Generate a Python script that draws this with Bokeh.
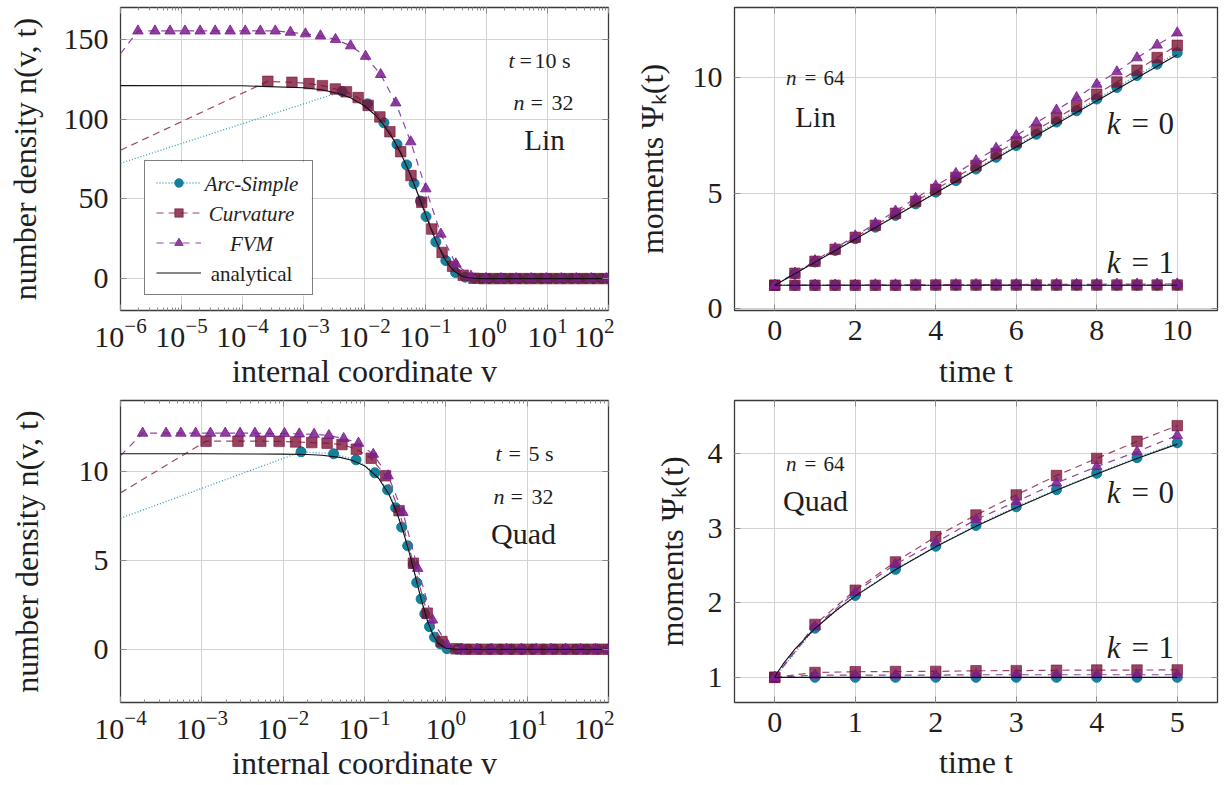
from bokeh.plotting import figure
from bokeh.models import (Range1d, FixedTicker, LinearAxis, Label, Legend, LegendItem, BoxAnnotation)
from bokeh.layouts import column, row
from bokeh.embed import file_html
from bokeh.resources import INLINE

FONT = "Liberation Serif"
TXT = "#1e1e1e"
C_ARC, C_ARC_L = "#0a7a98", "#3c9fbf"
C_CUR, C_CUR_L = "#7a0f33", "#a14566"
C_FVM, C_FVM_L = "#7b1f8e", "#8f45a3"
C_ANA = "#111111"

# ---------------- data: top-left (Lin, t = 10 s, n = 32) ----------------
TL_ANA_V = [1e-6, 1e-4, 1e-3, 2e-3, 4e-3, 6e-3, 0.01, 0.015, 0.02, 0.03, 0.04, 0.05, 0.06, 0.07,
            0.08, 0.1, 0.12, 0.15, 0.2, 0.25, 0.3, 0.4, 0.5, 0.7, 1.0, 100.0]
TL_ANA_N = [121.0, 120.9, 119.7, 118.4, 115.8, 113.3, 108.4, 102.6, 97.1, 87.0, 77.9, 69.8, 62.5, 56.0,
            50.2, 40.3, 32.3, 23.2, 13.4, 7.7, 4.5, 1.5, 0.49, 0.06, 0.0, 0.0]
TL_ARC_V = [1e-6, 4.30e-3, 0.01122, 0.02084, 0.03412, 0.04898, 0.06501, 0.0826, 0.1021, 0.1479, 0.2153,
            0.3112, 0.4467, 0.631, 0.8356, 1.107, 1.469, 1.945, 2.576, 3.412, 4.529, 5.998, 7.943, 10.52,
            13.93, 18.49, 24.49, 32.43, 42.95, 57.02, 75.51, 100.0]
TL_ARC_N = [72.3, 117.4, 109.6, 97.7, 84.2, 71.3, 59.6, 48.6, 38.9, 23.0, 11.3, 3.8, 0.9, 0.2, 0.05,
            0.0, 0.0, 0.0, 0.0, 0.0, 0.0, 0.0, 0.0, 0.0, 0.0, 0.0, 0.0, 0.0, 0.0, 0.0, 0.0, 0.0]
TL_CUR_V = [1e-6, 2.60e-4, 6.46e-4, 1.23e-3, 2.04e-3, 3.33e-3, 5.06e-3, 7.87e-3, 0.01148, 0.01786, 0.02606,
            0.03917, 0.05781, 0.0867, 0.1268, 0.1871, 0.278, 0.415, 0.6223, 0.9204, 1.349, 1.995, 2.951,
            4.365, 6.457, 9.55, 14.13, 20.89, 30.9, 45.7, 67.6, 100.0]
TL_CUR_N = [80.5, 123.7, 123.1, 122.3, 121.0, 118.9, 117.1, 113.5, 108.6, 101.4, 92.1, 79.6, 64.6, 47.9,
            31.1, 16.4, 7.7, 2.1, 0.2, 0.0, 0.0, 0.0, 0.0, 0.0, 0.0, 0.0, 0.0, 0.0, 0.0, 0.0, 0.0, 0.0]
TL_FVM_V = [1e-6, 1.93e-6, 3.67e-6, 6.49e-6, 1.143e-5, 2.018e-5, 3.565e-5, 6.28e-5, 1.109e-4, 1.959e-4,
            3.45e-4, 6.10e-4, 1.076e-3, 1.897e-3, 3.35e-3, 5.92e-3, 0.01042, 0.01841, 0.03251, 0.05728,
            0.1012, 0.1786, 0.3148, 0.5559, 0.9817, 1.730, 3.055, 5.395, 9.51, 16.79, 29.65, 52.24, 92.3]
TL_FVM_N = [141.0, 155.3, 155.3, 155.3, 155.3, 155.3, 155.3, 155.3, 155.3, 155.3, 155.3, 154.5, 153.5,
            152.2, 150.0, 146.0, 139.4, 128.0, 110.2, 85.8, 56.3, 27.9, 9.2, 1.5, 0.1, 0.0, 0.0, 0.0,
            0.0, 0.0, 0.0, 0.0, 0.0]

# ---------------- data: bottom-left (Quad, t = 5 s, n = 32) ----------------
BL_ANA_V = [1e-4, 1e-3, 0.005, 0.01, 0.02, 0.03, 0.05, 0.07, 0.1, 0.15, 0.2, 0.25, 0.3, 0.35, 0.4,
            0.45, 0.5, 0.6, 0.7, 0.8, 1.0, 1.3, 100.0]
BL_ANA_N = [11.0, 11.0, 10.99, 10.98, 10.96, 10.92, 10.8, 10.64, 10.33, 9.61, 8.71, 7.69, 6.61, 5.54,
            4.52, 3.59, 2.78, 1.54, 0.77, 0.35, 0.05, 0.0, 0.0]
BL_ARC_V = [1e-4, 0.0166, 0.04169, 0.0787, 0.134, 0.1923, 0.2415, 0.2864, 0.3396, 0.399, 0.4385, 0.4966,
            0.5508, 0.6295, 0.7261, 0.8551, 1.033, 1.380, 1.875, 2.547, 3.459, 4.688, 6.368, 8.650,
            11.75, 15.96, 21.68, 29.44, 39.90, 54.2, 73.6, 100.0]
BL_ARC_N = [7.37, 11.11, 11.0, 10.66, 9.93, 8.97, 7.96, 6.87, 5.82, 4.80, 3.75, 2.83, 1.99, 1.27, 0.68,
            0.30, 0.03, 0.0, 0.0, 0.0, 0.0, 0.0, 0.0, 0.0, 0.0, 0.0, 0.0, 0.0, 0.0, 0.0, 0.0, 0.0]
BL_CUR_V = [1e-4, 1.127e-3, 2.78e-3, 5.30e-3, 8.91e-3, 0.01422, 0.02249, 0.03467, 0.05284, 0.07943, 0.1208,
            0.1816, 0.2661, 0.399, 0.5902, 0.8954, 1.334, 1.738, 2.323, 3.097, 4.14, 5.534, 7.396, 9.863,
            13.18, 17.62, 23.5, 31.41, 41.98, 56.1, 74.82, 100.0]
BL_CUR_N = [8.8, 11.71, 11.71, 11.71, 11.70, 11.67, 11.63, 11.60, 11.52, 11.26, 10.75, 9.76, 7.80, 4.84,
            2.03, 0.43, 0.02, 0.0, 0.0, 0.0, 0.0, 0.0, 0.0, 0.0, 0.0, 0.0, 0.0, 0.0, 0.0, 0.0, 0.0, 0.0]
BL_FVM_V = [1e-4, 1.871e-4, 3.63e-4, 5.52e-4, 8.39e-4, 1.276e-3, 1.941e-3, 2.951e-3, 4.49e-3, 6.82e-3,
            0.01038, 0.01578, 0.02399, 0.03648, 0.05546, 0.08433, 0.1282, 0.195, 0.2965, 0.4508, 0.6855,
            1.042, 1.585, 2.41, 3.664, 5.572, 8.47, 12.88, 19.59, 29.79, 45.29, 68.87, 100.0]
BL_FVM_N = [10.9, 12.16, 12.16, 12.16, 12.16, 12.16, 12.16, 12.16, 12.16, 12.14, 12.14, 12.12, 12.10,
            12.03, 11.86, 11.60, 10.97, 9.76, 7.70, 4.55, 1.65, 0.25, 0.0, 0.0, 0.0, 0.0, 0.0, 0.0, 0.0,
            0.0, 0.0, 0.0, 0.0]

# ---------------- data: top-right (Lin moments, n = 64) ----------------
TR_T = [0, 0.5, 1, 1.5, 2, 2.5, 3, 3.5, 4, 4.5, 5, 5.5, 6, 6.5, 7, 7.5, 8, 8.5, 9, 9.5, 10]
TR_ANA_T = [0, 10]
TR_ANA0 = [1.0, 11.0]
TR_ANA1 = [1.0, 1.0]
TR_ARC0 = [1.0, 1.50, 2.01, 2.51, 3.02, 3.52, 4.03, 4.53, 5.04, 5.54, 6.04, 6.55, 7.06, 7.55, 8.08, 8.57,
           9.08, 9.58, 10.10, 10.59, 11.09]
TR_CUR0 = [1.0, 1.52, 2.04, 2.56, 3.08, 3.60, 4.12, 4.64, 5.16, 5.68, 6.20, 6.72, 7.22, 7.74, 8.25, 8.76,
           9.29, 9.82, 10.33, 10.88, 11.41]
TR_FVM0 = [1.0, 1.53, 2.07, 2.60, 3.14, 3.68, 4.22, 4.77, 5.31, 5.85, 6.40, 6.94, 7.49, 8.05, 8.60, 9.14,
           9.72, 10.26, 10.87, 11.42, 11.95]
TR_ARC1 = [1.0, 1.0, 1.0, 1.0, 1.0, 1.0, 1.0, 1.0, 1.0, 1.0, 1.0, 1.0, 1.0, 1.0, 1.0, 1.0, 1.0, 1.0, 1.0,
           1.0, 1.0]
TR_CUR1 = [1.0, 1.0, 1.0, 1.0, 1.0, 1.0, 1.0, 1.01, 1.01, 1.01, 1.01, 1.01, 1.01, 1.01, 1.01, 1.01, 1.01,
           1.01, 1.01, 1.01, 1.01]
TR_FVM1 = [1.0, 1.0, 1.01, 1.01, 1.01, 1.02, 1.02, 1.02, 1.02, 1.03, 1.03, 1.03, 1.03, 1.04, 1.04, 1.04,
           1.04, 1.05, 1.05, 1.05, 1.06]

# ---------------- data: bottom-right (Quad moments, n = 64) ----------------
BR_T = [0, 0.5, 1, 1.5, 2, 2.5, 3, 3.5, 4, 4.5, 5]
BR_ANA_T = [0, 0.005, 0.02, 0.05, 0.1, 0.25, 0.5, 0.75, 1, 1.5, 2, 2.5, 3, 3.5, 4, 4.5, 5]
BR_ANA0 = [1.0, 1.010, 1.038, 1.092, 1.173, 1.379, 1.656, 1.887, 2.091, 2.446, 2.753, 3.028, 3.279, 3.512,
           3.731, 3.938, 4.132]
BR_ANA1_T = [0, 5]
BR_ANA1 = [1.0, 1.0]
BR_ARC0 = [1.0, 1.66, 2.10, 2.45, 2.76, 3.04, 3.29, 3.52, 3.74, 3.95, 4.15]
BR_CUR0 = [1.0, 1.71, 2.17, 2.55, 2.89, 3.18, 3.45, 3.71, 3.94, 4.17, 4.38]
BR_FVM0 = [1.0, 1.68, 2.14, 2.52, 2.81, 3.12, 3.36, 3.61, 3.83, 4.03, 4.25]
BR_ARC1 = [1.0, 1.0, 1.0, 1.0, 1.0, 1.0, 1.0, 1.0, 1.0, 1.0, 1.0]
BR_CUR1 = [1.0, 1.065, 1.075, 1.078, 1.08, 1.088, 1.09, 1.095, 1.098, 1.098, 1.10]
BR_FVM1 = [1.0, 1.03, 1.03, 1.03, 1.03, 1.035, 1.035, 1.035, 1.035, 1.035, 1.035]

# ---------------- tick definitions ----------------
TL_XTICKS = [1e-6, 1e-5, 1e-4, 1e-3, 1e-2, 1e-1, 1e0, 1e1, 1e2]
BL_XTICKS = [1e-4, 1e-3, 1e-2, 1e-1, 1e0, 1e1, 1e2]
TL_YTICKS = [0, 50, 100, 150]
BL_YTICKS = [0, 5, 10]
TR_XTICKS = [0, 2, 4, 6, 8, 10]
TR_YTICKS = [0, 5, 10]
BR_XTICKS = [0, 1, 2, 3, 4, 5]
BR_YTICKS = [1, 2, 3, 4]

LEGEND_LABELS = ["Arc-Simple", "Curvature", "FVM", "analytical"]


def log_minor(decades):
    out = []
    for d in decades[:-1]:
        for m in range(2, 10):
            out.append(m * d)
    return out


def style_axis(ax, tick_size, label_size, tick_standoff, label_standoff):
    ax.axis_line_color = None
    ax.major_tick_in = 6
    ax.major_tick_out = 0
    ax.minor_tick_in = 3
    ax.minor_tick_out = 0
    ax.major_tick_line_color = "#8c8c8c"
    ax.minor_tick_line_color = "#8c8c8c"
    ax.major_label_text_font = FONT
    ax.major_label_text_font_size = f"{tick_size}px"
    ax.major_label_text_color = TXT
    ax.major_label_standoff = tick_standoff
    ax.axis_label_text_font = FONT
    ax.axis_label_text_font_size = f"{label_size}px"
    ax.axis_label_text_font_style = "normal"
    ax.axis_label_text_color = TXT
    ax.axis_label_standoff = label_standoff


def mirror(p, xticker, yticker, xlog):
    top = LinearAxis(ticker=xticker)
    rgt = LinearAxis(ticker=yticker)
    for ax in (top, rgt):
        ax.axis_line_color = None
        ax.major_tick_in = 6
        ax.major_tick_out = 0
        ax.minor_tick_in = 3
        ax.minor_tick_out = 0
        ax.major_tick_line_color = "#8c8c8c"
        ax.minor_tick_line_color = "#8c8c8c"
        ax.major_label_text_font_size = "1px"
        ax.major_label_text_alpha = 0.0
        ax.major_label_standoff = 0
    if not xlog:
        top.minor_tick_line_color = None
    rgt.minor_tick_line_color = None
    p.add_layout(top, "above")
    p.add_layout(rgt, "right")


def make_fig(w, h, xr, yr, xlog, mb, xticks, yticks, xlabel, ylabel, xts, xls, yls):
    p = figure(width=w, height=h, x_range=Range1d(*xr), y_range=Range1d(*yr),
               x_axis_type="log" if xlog else "linear", output_backend="svg",
               toolbar_location=None, min_border_left=mb[0], min_border_right=mb[1],
               min_border_top=mb[2], min_border_bottom=mb[3])
    p.background_fill_color = "white"
    p.border_fill_color = "white"
    p.outline_line_color = "#3a3a3a"
    p.outline_line_width = 1.3
    if xlog:
        xt = FixedTicker(ticks=xticks, minor_ticks=log_minor(xticks))
    else:
        xt = FixedTicker(ticks=xticks)
    yt = FixedTicker(ticks=yticks)
    p.xaxis.ticker = xt
    p.yaxis.ticker = yt
    p.xaxis.axis_label = xlabel
    p.yaxis.axis_label = ylabel
    for ax in p.xaxis:
        style_axis(ax, 30, 32, xts, xls)
        if not xlog:
            ax.minor_tick_line_color = None
    for ax in p.yaxis:
        style_axis(ax, 30, 32, 12, yls)
        ax.minor_tick_line_color = None
    p.xgrid.ticker = xt
    p.ygrid.ticker = yt
    p.grid.grid_line_color = "#d3d3d3"
    p.grid.grid_line_width = 1
    mirror(p, xt, yt, xlog)
    return p


def series(p, xs, ys, kind, skip_first):
    if kind == "arc":
        lr = p.line(xs, ys, line_color=C_ARC_L, line_dash="1 2", line_width=1.4)
        mx, my = (xs[1:], ys[1:]) if skip_first else (xs, ys)
        sr = p.scatter(mx, my, marker="circle", size=10, fill_color=C_ARC, line_color=C_ARC,
                       fill_alpha=0.95, line_alpha=0.95)
    elif kind == "cur":
        lr = p.line(xs, ys, line_color=C_CUR_L, line_dash="7 5", line_width=1.2)
        mx, my = (xs[1:], ys[1:]) if skip_first else (xs, ys)
        sr = p.scatter(mx, my, marker="square", size=10.5, fill_color=C_CUR, line_color=C_CUR,
                       fill_alpha=0.78, line_alpha=0.6)
    else:
        lr = p.line(xs, ys, line_color=C_FVM_L, line_dash="7 6", line_width=1.2)
        mx, my = (xs[1:], ys[1:]) if skip_first else (xs, ys)
        sr = p.scatter(mx, my, marker="triangle", size=10.5, fill_color=C_FVM, line_color=C_FVM,
                       fill_alpha=0.85, line_alpha=0.85)
    return lr, sr


def lbl(p, fh, fx, fy_top, text, size, style="normal", align="left"):
    p.add_layout(Label(x=fx, y=fh - fy_top, x_units="screen", y_units="screen", text=text,
                       text_font=FONT, text_font_size=f"{size}px", text_font_style=style,
                       text_align=align, text_baseline="middle", text_color=TXT, level="overlay"))


def eq(p, fh, x_var, x_eq, x_val, y, var, val, size):
    lbl(p, fh, x_var, y, var, size, "italic", "right")
    lbl(p, fh, x_eq, y, "=", size)
    lbl(p, fh, x_val, y, val, size)


# ---------------- layout constants ----------------
LW, RW = 614, 610
TH, BH = 392, 391
TFH, BFH = 303, 302

# ---------- top-left ----------
p1 = make_fig(LW, TH, (1e-6, 1e2), (-20, 170), True, (120, 6, 7, 82), TL_XTICKS, TL_YTICKS,
              "internal coordinate v", "number density n(v, t)", 8, 3, 18)
a1 = series(p1, TL_ARC_V, TL_ARC_N, "arc", True)
c1 = series(p1, TL_CUR_V, TL_CUR_N, "cur", True)
f1 = series(p1, TL_FVM_V, TL_FVM_N, "fvm", True)
n1 = p1.line(TL_ANA_V, TL_ANA_N, line_color=C_ANA, line_width=1.1)
p1.add_layout(BoxAnnotation(left=24, right=191, bottom=15, top=148, left_units="screen",
                            right_units="screen", bottom_units="screen", top_units="screen",
                            fill_color="white", fill_alpha=1.0, line_color=None, level="underlay"))
leg = Legend(items=[LegendItem(label=LEGEND_LABELS[0], renderers=list(a1)),
                    LegendItem(label=LEGEND_LABELS[1], renderers=list(c1)),
                    LegendItem(label=LEGEND_LABELS[2], renderers=list(f1)),
                    LegendItem(label=LEGEND_LABELS[3], renderers=[n1])],
             location=(24, 15), glyph_width=45, glyph_height=21, label_height=21, label_width=95,
             label_standoff=5, spacing=9, padding=11, margin=0, border_line_color="black",
             border_line_width=1.2, background_fill_alpha=0.0,
             label_text_font_size="10px", label_text_alpha=0.0, label_text_font=FONT)
p1.add_layout(leg)
for txt, yb, st in zip(LEGEND_LABELS, (126.5, 96.5, 66.5, 36.5), ("italic", "italic", "italic", "normal")):
    lbl(p1, 0, 131, -yb, txt, 21, st, "center")
eq(p1, TFH, 394, 399, 414, 53, "t", "10 s", 22)
eq(p1, TFH, 404, 410, 431, 95, "n", "32", 22)
lbl(p1, TFH, 424, 132, "Lin", 29, "normal", "center")

# ---------- top-right ----------
p2 = make_fig(RW, TH, (-1, 11), (-0.095, 13.05), False, (120, 7, 7, 82), TR_XTICKS, TR_YTICKS,
              "time t", "moments \u03a8\u2096(t)", 10, 10, 20)
for ys0, ys1, kind in ((TR_ARC0, TR_ARC1, "arc"), (TR_CUR0, TR_CUR1, "cur"), (TR_FVM0, TR_FVM1, "fvm")):
    series(p2, TR_T, ys0, kind, False)
    series(p2, TR_T, ys1, kind, False)
p2.line(TR_ANA_T, TR_ANA0, line_color=C_ANA, line_width=1.1)
p2.line(TR_ANA_T, TR_ANA1, line_color=C_ANA, line_width=1.1)
eq(p2, TFH, 62, 70, 89, 70, "n", "64", 21)
lbl(p2, TFH, 81, 109, "Lin", 29, "normal", "center")
eq(p2, TFH, 386, 397, 424, 116, "k", "0", 31)
eq(p2, TFH, 386, 397, 424, 255, "k", "1", 31)

# ---------- bottom-left ----------
p3 = make_fig(LW, BH, (1e-4, 1e2), (-3, 14), True, (120, 6, 8, 81), BL_XTICKS, BL_YTICKS,
              "internal coordinate v", "number density n(v, t)", 8, 3, 31)
series(p3, BL_ARC_V, BL_ARC_N, "arc", True)
series(p3, BL_CUR_V, BL_CUR_N, "cur", True)
series(p3, BL_FVM_V, BL_FVM_N, "fvm", True)
p3.line(BL_ANA_V, BL_ANA_N, line_color=C_ANA, line_width=1.1)
eq(p3, BFH, 381, 388, 408, 53, "t", "5 s", 22)
eq(p3, BFH, 384, 390, 411, 96, "n", "32", 22)
lbl(p3, BFH, 403, 133, "Quad", 30, "normal", "center")

# ---------- bottom-right ----------
p4 = make_fig(RW, BH, (-0.5, 5.5), (0.662, 4.718), False, (120, 7, 8, 81), BR_XTICKS, BR_YTICKS,
              "time t", "moments \u03a8\u2096(t)", 10, 9, 15)
for ys0, ys1, kind in ((BR_ARC0, BR_ARC1, "arc"), (BR_CUR0, BR_CUR1, "cur"), (BR_FVM0, BR_FVM1, "fvm")):
    series(p4, BR_T, ys0, kind, False)
    series(p4, BR_T, ys1, kind, False)
p4.line(BR_ANA_T, BR_ANA0, line_color=C_ANA, line_width=1.1)
p4.line(BR_ANA1_T, BR_ANA1, line_color=C_ANA, line_width=1.1)
eq(p4, BFH, 62, 70, 89, 63, "n", "64", 21)
lbl(p4, BFH, 81, 100, "Quad", 30, "normal", "center")
eq(p4, BFH, 386, 397, 424, 92, "k", "0", 31)
eq(p4, BFH, 386, 397, 424, 247, "k", "1", 31)

layout = column(row(p1, p2), row(p3, p4))
open("out.html", "w").write(file_html(layout, INLINE))
